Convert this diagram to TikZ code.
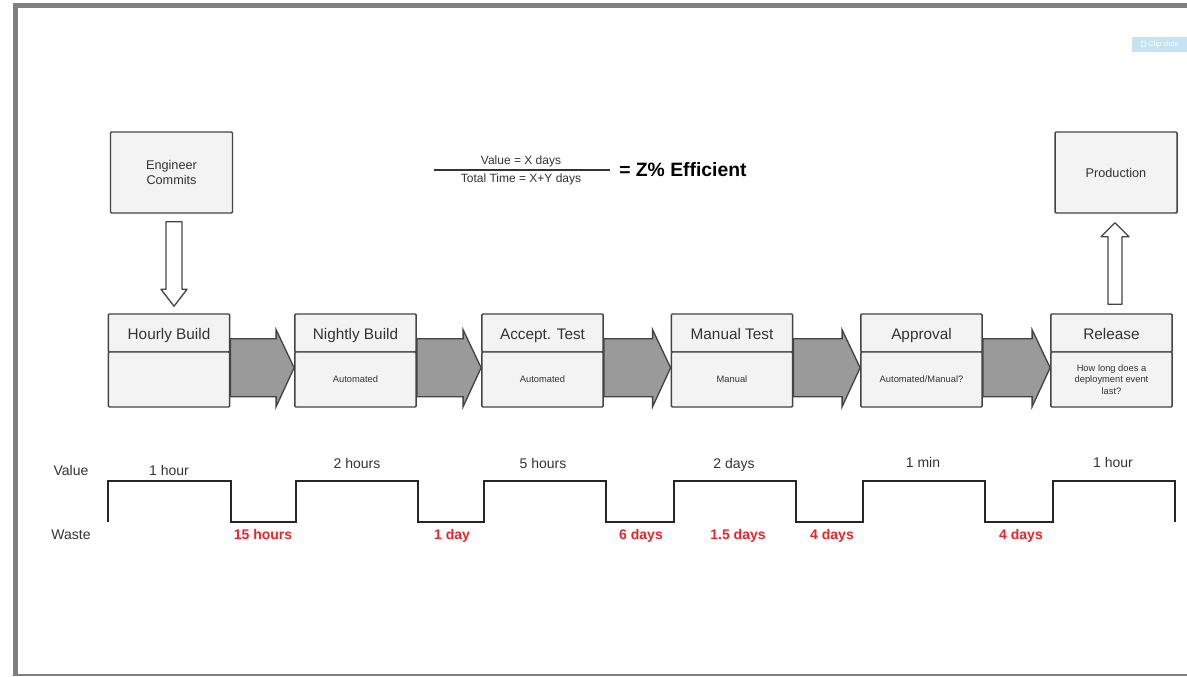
\documentclass[tikz,border=0pt]{standalone}
\usepackage{fontspec}
\setmainfont{Liberation Sans}
\usetikzlibrary{calc}
\definecolor{boxfill}{HTML}{F3F3F3}
\definecolor{boxline}{HTML}{444444}
\definecolor{arrfill}{HTML}{9A9A9A}
\definecolor{framegray}{HTML}{808080}
\definecolor{wastered}{HTML}{E8262A}
\definecolor{clipblue}{HTML}{C5E3F0}
\definecolor{txt}{HTML}{333333}
\tikzset{
  px/.style={x=0.75pt,y=-0.75pt},
  procbox/.style={draw=boxline,fill=boxfill,line width=1.1pt,rounded corners=0.8pt,minimum width=91pt,inner sep=0pt,text=txt},
  titlepart/.style={procbox,minimum height=28.5pt,text height=11pt,text depth=2pt,font=\fontsize{11.5}{13}\selectfont},
  bodypart/.style={procbox,minimum height=41.25pt,font=\fontsize{7}{8.5}\selectfont,align=center},
  endbox/.style={draw=boxline,fill=boxfill,line width=1.1pt,rounded corners=0.8pt,minimum width=91.5pt,minimum height=60.75pt,inner sep=0pt,align=center,text=txt,font=\fontsize{9.5}{11}\selectfont},
  grayarrow/.style={draw=boxline,fill=arrfill,line width=1pt,line join=miter},
  hollowarrow/.style={draw=boxline,fill=white,line width=1pt,line join=round},
  wave/.style={draw=black!85,line width=1.6pt,line join=miter},
  vallabel/.style={font=\fontsize{10.5}{12}\selectfont,text=txt,inner sep=0pt,text height=7.5pt,text depth=2pt},
  wastelabel/.style={font=\bfseries\fontsize{10.5}{12}\selectfont,text=wastered,inner sep=0pt,text height=7.5pt,text depth=2pt},
  formtext/.style={font=\fontsize{9}{10}\selectfont,text=txt,inner sep=0pt,text height=6.5pt,text depth=2pt},
}
\newcommand{\grayarr}[2]{%
  \draw[grayarrow] ($(#1.south east)+(0,-14)$) -- ($(#2.south west)+(-18,-14)$) --
    ($(#2.south west)+(-18,-23)$) -- ($(#2.south west)+(0,15)$) --
    ($(#2.south west)+(-18,54)$) -- ($(#2.south west)+(-18,44)$) --
    ($(#1.south east)+(0,44)$) -- cycle;}
\begin{document}
\begin{tikzpicture}[px]
\useasboundingbox (0,0) rectangle (1187,676);
\fill[white] (0,0) rectangle (1187,676);
% frame
\fill[framegray] (13,3) rectangle (1187,7.5);
\fill[framegray] (13,3) rectangle (17.5,676);
\fill[framegray] (13,674) rectangle (1187,676);
% clip slide button
\node[fill=clipblue,minimum width=41pt,minimum height=11.5pt,inner sep=0pt,text=white,font=\fontsize{5.5}{6}\selectfont] (clip) at (1159.5,44.5) {\tikz\draw[white,line width=0.6pt] (0,0) rectangle (3pt,4pt);\, Clip slide};

% top boxes
\node[endbox] (eng) at (171.5,172.5) {Engineer\\Commits};
\node[endbox] (prod) at (1116,172.5) {Production};

% formula
\node[formtext] (num) at (521,161) {Value = X days};
\node[formtext] (den) at (521,179.5) {Total Time = X+Y days};
\draw[txt,line width=1.2pt] (434,170) -- (610,170);
\node[font=\bfseries\fontsize{14.5}{16}\selectfont,anchor=west,inner sep=0pt] (eff) at (619,169.5) {= Z\% Efficient};

% process boxes
\foreach \n/\cx/\t/\b in {1/169/Hourly Build/{},2/355.5/Nightly Build/Automated,3/542.5/Accept. Test/Automated,4/732/Manual Test/Manual,5/921.5/Approval/{Automated/Manual?},6/1111.5/Release/{How long does a\\deployment event\\last?}}{
  \node[titlepart] (t\n) at (\cx,333) {\t};
  \node[bodypart] (b\n) at (\cx,379.5) {\b};
}
\grayarr{t1}{t2}
\grayarr{t2}{t3}
\grayarr{t3}{t4}
\grayarr{t4}{t5}
\grayarr{t5}{t6}

% hollow arrows
\coordinate (da) at ($(eng.south)+(2.5,0)$);
\draw[hollowarrow] ($(da)+(-8,8)$) -- ($(da |- t1.north)+(-8,-24)$) -- ($(da |- t1.north)+(-13,-24)$) --
  ($(da |- t1.north)+(0,-7)$) -- ($(da |- t1.north)+(13,-24)$) -- ($(da |- t1.north)+(8,-24)$) -- ($(da)+(8,8)$) -- cycle;
\coordinate (ua) at ($(prod.south)+(-1,0)$);
\draw[hollowarrow] ($(ua |- t6.north)+(-7,-9)$) -- ($(ua)+(-7,23)$) -- ($(ua)+(-14,23)$) --
  ($(ua)+(0,9)$) -- ($(ua)+(14,23)$) -- ($(ua)+(7,23)$) -- ($(ua |- t6.north)+(7,-9)$) -- cycle;

% timeline
\node[vallabel] (vl) at (71,472) {Value};
\node[vallabel] (wl) at (71,536) {Waste};
\coordinate (w0) at (108,522);
\coordinate (w1) at (1175,522);
\draw[wave] (w0) -- (108,481) -- (231,481) -- (231,522) -- (296,522) -- (296,481) -- (418,481) -- (418,522)
  -- (484,522) -- (484,481) -- (606,481) -- (606,522) -- (674,522) -- (674,481) -- (796,481) -- (796,522)
  -- (863,522) -- (863,481) -- (985,481) -- (985,522) -- (1053,522) -- (1053,481) -- (1175,481) -- (w1);
\node[vallabel] (v1) at (169,472) {1 hour};
\node[vallabel] (v2) at (357,465) {2 hours};
\node[vallabel] (v3) at (543,465) {5 hours};
\node[vallabel] (v4) at (734,465) {2 days};
\node[vallabel] (v5) at (923,464) {1 min};
\node[vallabel] (v6) at (1113,464) {1 hour};
\node[wastelabel] (x1) at (263,536) {15 hours};
\node[wastelabel] (x2) at (452,536) {1 day};
\node[wastelabel] (x3) at (641,536) {6 days};
\node[wastelabel] (x4) at (738,536) {1.5 days};
\node[wastelabel] (x5) at (832,536) {4 days};
\node[wastelabel] (x6) at (1021,536) {4 days};
\end{tikzpicture}
\end{document}
